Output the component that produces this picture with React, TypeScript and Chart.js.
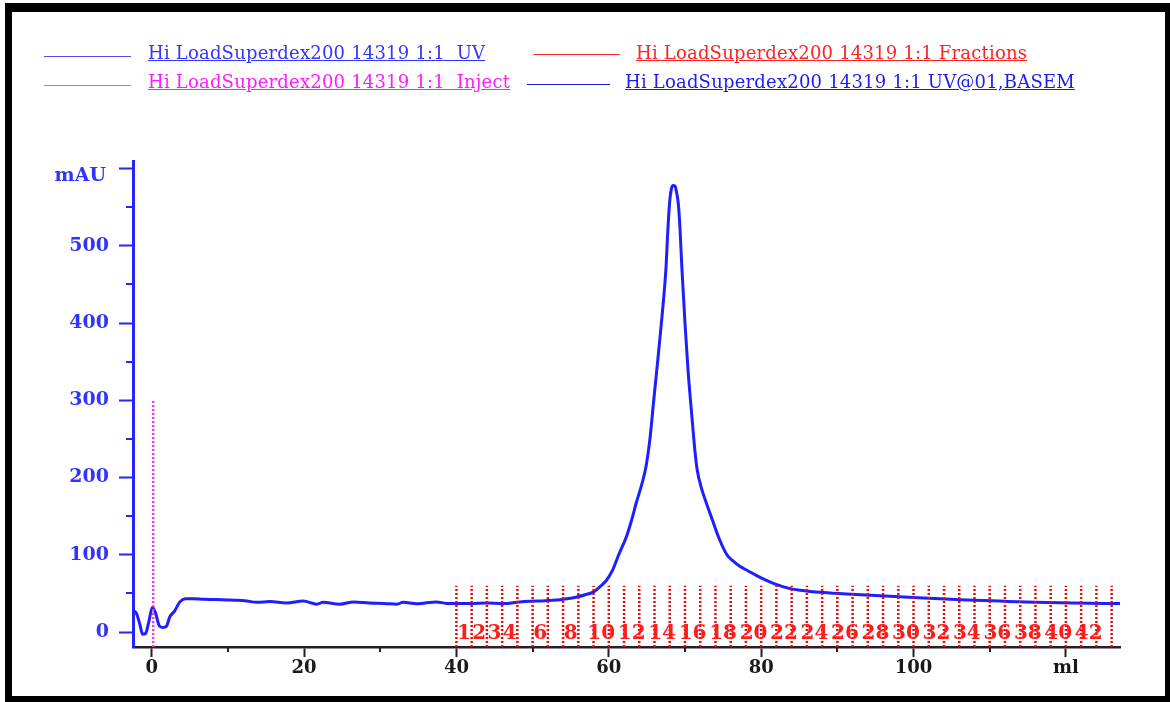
import React, { useEffect, useRef } from 'react';
import { Chart, registerables } from 'chart.js';

Chart.register(...registerables);

// ---------- data ----------
const UV_ML = [
  -2.45, -2.0, -1.5, -1.2, -0.8, -0.4, 0.1, 0.5, 1.0, 1.5, 1.9, 2.4, 3.0, 3.7, 4.4, 5.5,
  6.8, 8.5, 10, 11.2, 12.5, 13.8, 15.5, 17.7, 19.9, 21.7, 22.5, 24.7, 26.5, 28.6, 30.5,
  32.2, 33, 34.8, 37.4, 38.7, 41.8, 44, 46.1, 48.3, 50.5, 52.7, 54.5, 55.8, 57, 58, 59,
  59.7, 60.5, 61.3, 62.3, 63.0, 63.6, 64.3, 64.9, 65.4, 65.9, 66.3, 67, 67.5, 67.75, 68.0,
  68.2, 68.45, 68.7, 68.9, 69.15, 69.35, 69.6, 70.0, 70.4, 70.9, 71.3, 71.6, 72.2, 72.8,
  73.6, 74.4, 75.5, 76.3, 77.2, 78.3, 79.4, 81.6, 83.8,
  85.1, 88.1, 92.5, 96.9, 103.5, 107, 111.3, 116, 121, 127.1,
];
const UV_MAU = [
  28, 24, 8, -3, -2, 12, 32, 25, 8, 6, 7, 20, 27, 39, 43, 43,
  42.3, 42, 41.5, 41, 40, 38.5, 39.5, 37.6, 40, 36, 38.5, 36, 39, 37.6, 37,
  36, 38.5, 36.5, 39, 37, 37, 37.5, 36.8, 39, 40, 41, 43, 45.3, 48.5, 52, 60,
  67, 80, 100, 123, 145, 167, 190, 215, 250, 300, 339, 410, 470, 520, 558,
  573, 578, 577, 569, 552, 522, 470, 400, 339, 280, 235, 210, 185, 167,
  145, 123, 100, 92, 85, 79, 73, 63, 56.2,
  54, 51, 48.5, 46.2, 43.2, 41.5, 40, 38.5, 37.5, 36.8,
];

const INJECT_ML = [0.2, 0.2];
const INJECT_MAU = [-19.4, 300];

const FRACTION_BOUNDS_ML = [
  40, 42, 44, 46, 48, 50, 52, 54, 56, 58, 60, 62, 64, 66, 68, 70, 72, 74, 76, 78, 80, 82,
  84, 86, 88, 90, 92, 94, 96, 98, 100, 102, 104, 106, 108, 110, 112, 114, 116, 118, 120,
  122, 124, 126,
];
const FRACTION_TOP_MAU = 60;
const FRACTION_LABELS = [
  1, 2, 3, 4, 6, 8, 10, 12, 14, 16, 18, 20, 22, 24, 26, 28, 30, 32, 34, 36, 38, 40, 42,
];

const X_MIN = -2.45;
const X_MAX = 127.1;
const Y_MIN = -19.4;
const Y_MAX = 609.7;
const X_MINOR_TICKS = [10, 30, 50, 70, 90, 110];
const Y_MINOR_TICKS = [50, 150, 250, 350, 450, 550];
const Y_UNIT_LABEL = 'mAU';
const X_UNIT_LABEL = 'ml';

const LEGEND_ITEMS = [
  { text: 'Hi LoadSuperdex200 14319 1:1  UV', color: '#3434ff', lineColor: '#4a4aff', lx: 44, lw: 87, ly: 57, tx: 148, ty: 43 },
  { text: 'Hi LoadSuperdex200 14319 1:1 Fractions', color: '#ff2222', lineColor: '#ff2a2a', lx: 533, lw: 87, ly: 55, tx: 636, ty: 43 },
  { text: 'Hi LoadSuperdex200 14319 1:1  Inject', color: '#ff1aff', lineColor: '#ff44ff', lx: 44, lw: 87, ly: 86, tx: 148, ty: 72 },
  { text: 'Hi LoadSuperdex200 14319 1:1 UV@01,BASEM', color: '#1c1cf0', lineColor: '#1c1cd8', lx: 527, lw: 83, ly: 85, tx: 625, ty: 72 },
];

const SERIF = '"DejaVu Serif", serif';
const BLUE = '#2424ff';

const extrasPlugin = {
  id: 'extras',
  afterDatasetsDraw(chart: any) {
    const { ctx, scales } = chart;
    const x = scales.x;
    const y = scales.y;
    ctx.save();
    ctx.font = 'bold 20px ' + SERIF;
    ctx.fillStyle = '#ff1c1c';
    ctx.textAlign = 'center';
    ctx.textBaseline = 'middle';
    FRACTION_LABELS.forEach((n) => {
      const start = FRACTION_BOUNDS_ML[n - 1];
      const end = FRACTION_BOUNDS_ML[n];
      const px = x.getPixelForValue((start + end) / 2);
      ctx.fillText(String(n), px, y.getPixelForValue(-2));
    });
    ctx.restore();
  },
  afterDraw(chart: any) {
    const { ctx, chartArea, scales } = chart;
    const x = scales.x;
    const y = scales.y;
    ctx.save();
    ctx.lineWidth = 2;
    ctx.strokeStyle = '#222';
    X_MINOR_TICKS.forEach((v) => {
      const px = Math.round(x.getPixelForValue(v));
      ctx.beginPath();
      ctx.moveTo(px, chartArea.bottom);
      ctx.lineTo(px, chartArea.bottom + 5);
      ctx.stroke();
    });
    ctx.strokeStyle = BLUE;
    Y_MINOR_TICKS.forEach((v) => {
      const py = Math.round(y.getPixelForValue(v));
      ctx.beginPath();
      ctx.moveTo(chartArea.left - 7, py);
      ctx.lineTo(chartArea.left, py);
      ctx.stroke();
    });
    // unit label of the value axis, set just under its top tick
    ctx.font = 'bold 19px ' + SERIF;
    ctx.fillStyle = '#3333ff';
    ctx.textAlign = 'right';
    ctx.textBaseline = 'middle';
    ctx.fillText(Y_UNIT_LABEL, chartArea.left - 27, y.getPixelForValue(600) + 8);
    ctx.restore();
  },
};

export default function App() {
  const canvasRef = useRef<HTMLCanvasElement | null>(null);

  useEffect(() => {
    document.body.style.margin = '0';
    const canvas = canvasRef.current;
    if (!canvas) return;

    const fractionData: any[] = [];
    FRACTION_BOUNDS_ML.forEach((b) => {
      fractionData.push({ x: b, y: Y_MIN });
      fractionData.push({ x: b, y: FRACTION_TOP_MAU });
      fractionData.push({ x: b, y: null });
    });

    const chart = new Chart(canvas, {
      type: 'line',
      data: {
        datasets: [
          {
            label: 'Fractions',
            data: fractionData,
            borderColor: '#e01010',
            borderWidth: 2.5,
            borderDash: [2, 2],
            pointRadius: 0,
            spanGaps: false,
            tension: 0,
          },
          {
            label: 'Inject',
            data: INJECT_ML.map((v, i) => ({ x: v, y: INJECT_MAU[i] })),
            borderColor: '#f23ce0',
            borderWidth: 2.5,
            borderDash: [2, 2],
            pointRadius: 0,
            tension: 0,
          },
          {
            label: 'UV',
            data: UV_ML.map((v, i) => ({ x: v, y: UV_MAU[i] })),
            borderColor: '#1e1eff',
            borderWidth: 3,
            pointRadius: 0,
            cubicInterpolationMode: 'monotone',
          },
        ],
      },
      options: {
        animation: false,
        responsive: false,
        devicePixelRatio: 1,
        layout: { padding: { left: 0, top: 161, right: 50, bottom: 0 } },
        plugins: { legend: { display: false }, tooltip: { enabled: false } },
        scales: {
          x: {
            type: 'linear',
            min: X_MIN,
            max: X_MAX,
            afterFit: (s: any) => { s.height = 55; },
            grid: { drawOnChartArea: false, tickLength: 10, tickColor: '#222', tickWidth: 2 },
            border: { color: '#222', width: 2.5 },
            ticks: {
              stepSize: 20,
              includeBounds: false,
              autoSkip: false,
              maxRotation: 0,
              padding: 1,
              color: '#1a1a1a',
              font: { family: SERIF, size: 18, weight: 'bold' },
              callback: (v: any) => (v === 120 ? X_UNIT_LABEL : String(v)),
            },
          },
          y: {
            type: 'linear',
            min: Y_MIN,
            max: Y_MAX,
            afterFit: (s: any) => { s.width = 133; },
            grid: { drawOnChartArea: false, tickLength: 14, tickColor: BLUE, tickWidth: 2 },
            border: { color: BLUE, width: 3 },
            ticks: {
              stepSize: 100,
              includeBounds: false,
              autoSkip: false,
              padding: 10,
              color: '#3333ff',
              font: { family: SERIF, size: 19, weight: 'bold' },
              callback: (v: any) => (v === 600 ? '' : String(v)),
            },
          },
        },
      },
      plugins: [extrasPlugin],
    } as any);

    return () => chart.destroy();
  }, []);

  return (
    <div style={{ position: 'relative', width: 1170, height: 702, background: '#fff', overflow: 'hidden' }}>
      <div
        style={{
          position: 'absolute',
          left: 5,
          top: 3,
          width: 1165,
          height: 699,
          boxSizing: 'border-box',
          borderLeft: '7px solid #000',
          borderTop: '9px solid #000',
          borderRight: '5px solid #000',
          borderBottom: '6px solid #000',
        }}
      />
      <canvas ref={canvasRef} width={1170} height={702} style={{ position: 'absolute', left: 0, top: 0 }} />
      {LEGEND_ITEMS.map((it, i) => (
        <React.Fragment key={i}>
          <div
            style={{
              position: 'absolute',
              left: it.lx,
              top: it.ly - 1,
              width: it.lw,
              height: 0,
              borderTop: '1.5px solid ' + it.lineColor,
            }}
          />
          <div
            style={{
              position: 'absolute',
              left: it.tx,
              top: it.ty,
              fontFamily: SERIF,
              fontSize: 18,
              lineHeight: '20px',
              letterSpacing: '0.2px',
              color: it.color,
              textDecoration: 'underline',
              whiteSpace: 'pre',
            }}
          >
            {it.text}
          </div>
        </React.Fragment>
      ))}
    </div>
  );
}
